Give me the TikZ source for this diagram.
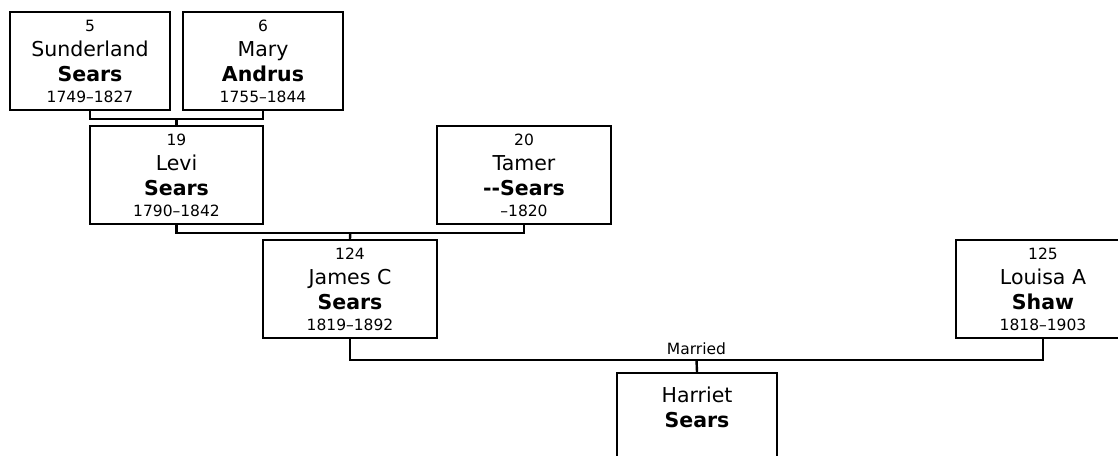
\documentclass[tikz,border=0pt]{standalone}
\usepackage{fontspec}
\setmainfont{DejaVu Sans}
\usetikzlibrary{positioning}
\newcommand{\smalltxt}[1]{{\fontsize{15.5}{19}\selectfont #1}}

\begin{document}
\begin{tikzpicture}[x=1pt, y=-1pt,
  every node/.style={font=\fontsize{20.5}{25}\selectfont},
  personbox/.style={draw, line width=2.4pt, minimum height=98pt, align=center, inner sep=0pt},
  link/.style={line width=2.4pt}]
  \clip (0,0) rectangle (1118,455);

  % great-grandparents
  \node[personbox, minimum width=160pt] (p5) at (90,61) {\smalltxt{5}\\Sunderland\\\textbf{Sears}\\[-4pt]\smalltxt{1749–1827}};
  \node[personbox, minimum width=160pt] (p6) at (263,61) {\smalltxt{6}\\Mary\\\textbf{Andrus}\\[-4pt]\smalltxt{1755–1844}};

  % grandparents
  \node[personbox, minimum width=173pt] (p19) at (176.5,175) {\smalltxt{19}\\Levi\\\textbf{Sears}\\[-4pt]\smalltxt{1790–1842}};
  \node[personbox, minimum width=174pt] (p20) at (524,175) {\smalltxt{20}\\Tamer\\\textbf{-{}-Sears}\\[-4pt]\smalltxt{–1820}};

  % parents
  \node[personbox, minimum width=174pt] (p124) at (350,289) {\smalltxt{124}\\James C\\\textbf{Sears}\\[-4pt]\smalltxt{1819–1892}};
  \node[personbox, minimum width=174pt] (p125) at (1043,289) {\smalltxt{125}\\Louisa A\\\textbf{Shaw}\\[-4pt]\smalltxt{1818–1903}};

  % child
  \node[personbox, minimum width=160pt] (harriet) at (697,422) {Harriet\\\textbf{Sears}\\[5pt]\mbox{}};

  % couples and descent
  \draw[link] (p5.south) -- ++(0,8) -| coordinate[pos=0.25] (m56) (p6.south);
  \draw[link] (m56) -- (p19.north);

  \draw[link] (p19.south) -- ++(0,8) -| coordinate[pos=0.25] (m1920) (p20.south);
  \draw[link] (m1920) -- (p124.north);

  \draw[link] (p124.south) -- ++(0,21) -| coordinate[pos=0.25] (m124125)
    node[pos=0.25, above=1pt, font=\fontsize{15.5}{19}\selectfont] (married) {Married} (p125.south);
  \draw[link] (m124125) -- (harriet.north);
\end{tikzpicture}
\end{document}
